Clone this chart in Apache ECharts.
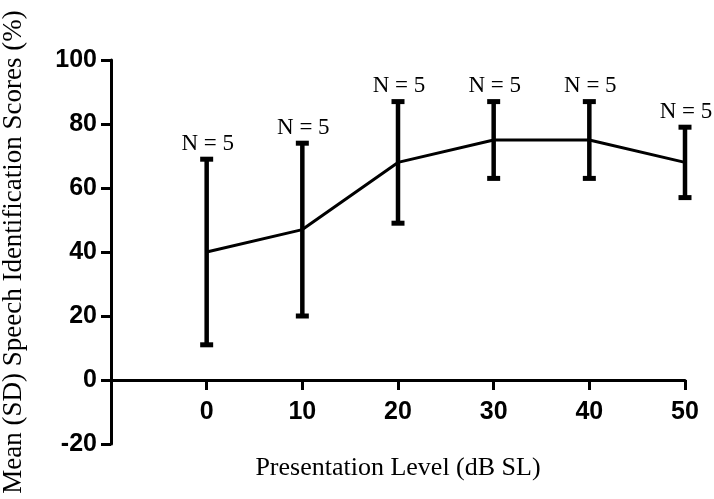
<!DOCTYPE html>
<html>
<head>
<meta charset="utf-8">
<script src="https://cdn.jsdelivr.net/npm/echarts@6/dist/echarts.min.js"></script>
<style>
html,body{margin:0;padding:0;background:#fff;}
#chart{width:714px;height:499px;}
</style>
</head>
<body>
<div id="chart"></div>
<script>
// Data
const levels = [0, 10, 20, 30, 40, 50];
const means = [40, 47, 68, 75, 75, 68];
const sds = [29, 27, 19, 12, 12, 11];
const nLabels = ['N = 5', 'N = 5', 'N = 5', 'N = 5', 'N = 5', 'N = 5'];
const xTitle = 'Presentation Level (dB SL)';
const yTitle = 'Mean (SD) Speech Identification Scores (%)';
const yMin = -20, yMax = 100, yStep = 20;
const xMin = -10, xMax = 50, xStep = 10;

const W = 714, H = 499;
const grid = {left: 111, right: 29, top: 60, bottom: 55};
const gridH = H - grid.top - grid.bottom;
// place x axis where y = 0
const xAxisOffset = -gridH * (0 - yMin) / (yMax - yMin);

const chart = echarts.init(document.getElementById('chart'));

const lineData = levels.map((x, i) => [x, means[i]]);
const errData = levels.map((x, i) => [x, means[i], sds[i]]);

const tickFont = {color: '#000', fontSize: 25, fontWeight: 'bold', fontFamily: 'Liberation Sans, Arial, sans-serif'};
const xTitleFont = {color: '#000', fontSize: 26, fontFamily: 'Liberation Serif, Times New Roman, serif'};
const yTitleFont = {color: '#000', fontSize: 27, fontFamily: 'Liberation Serif, Times New Roman, serif'};

const option = {
  animation: false,
  backgroundColor: '#fff',
  grid: Object.assign({containLabel: false, outerBoundsMode: 'none'}, grid),
  xAxis: {
    type: 'value', min: xMin, max: xMax, interval: xStep,
    position: 'bottom', offset: xAxisOffset,
    splitLine: {show: false},
    axisLine: {show: true, onZero: false, lineStyle: {color: '#000', width: 3}},
    axisTick: {show: true, customValues: levels, length: 10, lineStyle: {color: '#000', width: 3}},
    axisLabel: Object.assign({customValues: levels, margin: 20}, tickFont),
    name: xTitle, nameLocation: 'middle', nameGap: 75,
    nameTextStyle: xTitleFont
  },
  yAxis: {
    type: 'value', min: yMin, max: yMax, interval: yStep,
    splitLine: {show: false},
    axisLine: {show: true, onZero: false, lineStyle: {color: '#000', width: 3}},
    axisTick: {show: true, length: 10, lineStyle: {color: '#000', width: 3}},
    axisLabel: Object.assign({margin: 14}, tickFont),
    name: yTitle, nameLocation: 'middle', nameGap: 84,
    nameTextStyle: yTitleFont
  },
  series: [
    {
      type: 'line',
      data: lineData,
      symbol: 'none',
      lineStyle: {color: '#000', width: 3},
      z: 3
    },
    {
      type: 'custom',
      data: errData,
      clip: false,
      z: 4,
      renderItem: function (params, api) {
        const x = api.value(0), m = api.value(1), sd = api.value(2);
        const label = nLabels[params.dataIndex];
        const top = api.coord([x, m + sd]);
        const bot = api.coord([x, m - sd]);
        const hw = 6.5;
        return {
          type: 'group',
          children: [
            {type: 'line', shape: {x1: top[0], y1: top[1], x2: bot[0], y2: bot[1]}, style: {stroke: '#000', lineWidth: 4.5}},
            {type: 'line', shape: {x1: top[0] - hw, y1: top[1], x2: top[0] + hw, y2: top[1]}, style: {stroke: '#000', lineWidth: 5}},
            {type: 'line', shape: {x1: bot[0] - hw, y1: bot[1], x2: bot[0] + hw, y2: bot[1]}, style: {stroke: '#000', lineWidth: 5}},
            {type: 'text', style: {text: label, x: top[0] + 1, y: top[1] - 4, align: 'center', verticalAlign: 'bottom', fontSize: 23, fontFamily: 'Liberation Serif, Times New Roman, serif', fill: '#000'}}
          ]
        };
      }
    }
  ]
};
chart.setOption(option);
</script>
</body>
</html>
